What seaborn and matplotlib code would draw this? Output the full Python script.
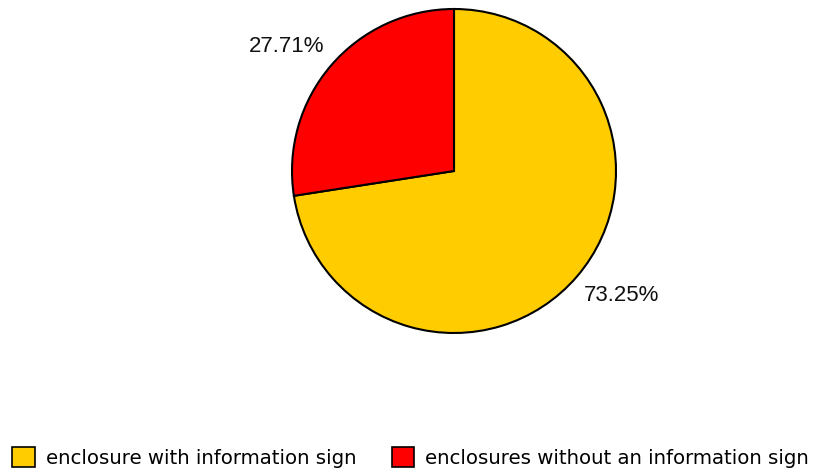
import matplotlib
matplotlib.use("Agg")
import numpy as np
import matplotlib.pyplot as plt
from matplotlib.patches import Patch
import seaborn as sns

categories = ["enclosure with information sign", "enclosures without an information sign"]
values = [73.25, 27.71]
colors = ["#FFCC00", "#FF0000"]

sns.set_style("white")
plt.rcParams["font.family"] = ["DejaVu Sans"]

W, H = 817, 469
fig = plt.figure(figsize=(W / 100, H / 100), dpi=100)

# square axes holding the pie
cx, cy, r = 454, 171, 162
ax = fig.add_axes([(cx - r) / W, (H - cy - r) / H, 2 * r / W, 2 * r / H])
wedges, _ = ax.pie(
    values,
    colors=colors,
    startangle=90,
    counterclock=False,
    wedgeprops=dict(edgecolor="black", linewidth=1.5),
)

# value labels placed outside each wedge
for w, v in zip(wedges, values):
    ang = np.deg2rad((w.theta1 + w.theta2) / 2 + 4)
    ax.text(1.29 * np.cos(ang), 1.29 * np.sin(ang), f"{v:.2f}%",
            ha="center", va="center", fontsize=16,
            family="Liberation Sans", color="#111111")

ax.set_xlim(-1, 1)
ax.set_ylim(-1, 1)
ax.set_aspect("equal")
ax.axis("off")

handles = [Patch(facecolor=c, edgecolor="black", linewidth=1.2) for c in colors]
fig.legend(
    handles,
    categories,
    loc="center left",
    bbox_to_anchor=(12 / W, 1 - 457.5 / H),
    ncol=2,
    frameon=False,
    fontsize=14.2,
    labelcolor="black",
    handlelength=1.15,
    handleheight=1.15,
    handletextpad=0.55,
    columnspacing=1.8,
    borderpad=0,
    borderaxespad=0,
)

fig.savefig("out.png", dpi=100, facecolor="white")
